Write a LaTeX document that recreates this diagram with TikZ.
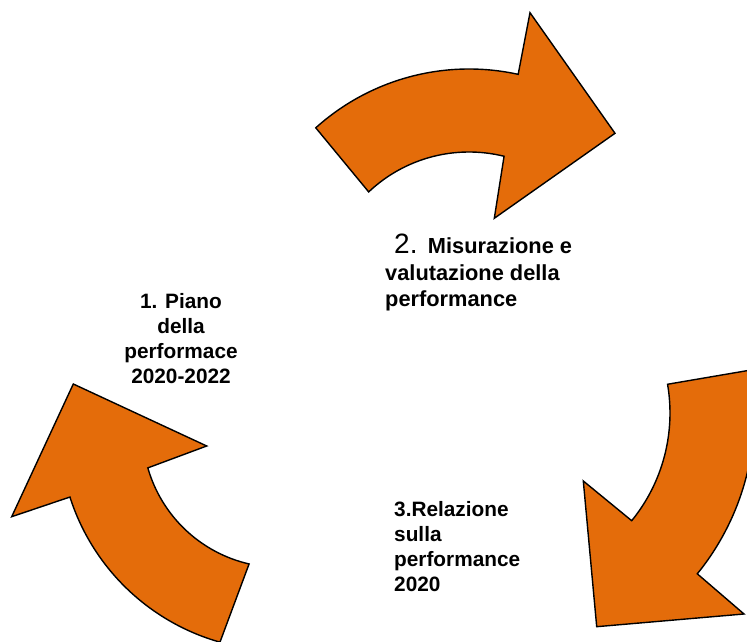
\documentclass[tikz,border=0pt]{standalone}
\usepackage{fontspec}
\setmainfont{Liberation Sans}
\usetikzlibrary{calc}
\definecolor{arroworange}{RGB}{228,108,10}

\begin{document}
\begin{tikzpicture}[x=1pt,y=1pt,
  bentarrow/.style={fill=arroworange, draw=black, line width=1.4pt, line join=miter},
  lbl/.style={inner sep=0pt, font=\bfseries\fontsize{20.8}{25}\selectfont},
  lbltwo/.style={inner sep=0pt, font=\bfseries\fontsize{21.8}{26.5}\selectfont}]
\useasboundingbox (0,0) rectangle (747,642);
\clip (0,0) rectangle (747,642);

% top arrow, bending to the right
\coordinate (c1) at (469,344);
\coordinate (h1a) at (530,629.3);
\coordinate (h1t) at (615,508.7);
\coordinate (h1b) at (494.3,423.7);
\draw[bentarrow] ($(c1)+(132:229)$) arc[start angle=132, end angle=77.6, radius=229]
  -- (h1a) -- (h1t) -- (h1b)
  -- ($(c1)+(76.1:146)$) arc[start angle=76.1, end angle=133.4, radius=146] -- cycle;

% right arrow, bending down to the left
\coordinate (c2) at (499.4,229);
\coordinate (h2a) at (583.3,161);
\coordinate (h2t) at (596.7,15.3);
\coordinate (h2b) at (744,28);
\draw[bentarrow] ($(c2)+(9.7:170.6)$) arc[start angle=9.7, end angle=-39.15, radius=170.6]
  -- (h2a) -- (h2t) -- (h2b)
  -- ($(c2)+(-39.1:255)$) arc[start angle=-39.1, end angle=9.7, radius=255] -- cycle;

% left arrow, bending up
\coordinate (c3) at (280,212);
\coordinate (h3a) at (11.7,125.3);
\coordinate (h3t) at (73.3,258);
\coordinate (h3b) at (206.7,196);
\draw[bentarrow] ($(c3)+(254.2:220.5)$) arc[start angle=254.2, end angle=197.7, radius=220.5]
  -- (h3a) -- (h3t) -- (h3b)
  -- ($(c3)+(196:137.5)$) arc[start angle=196, end angle=257, radius=137.5] -- cycle;

% step 1
\node[lbl, anchor=base] (p1a) at (181,333) {1. Piano};
\node[lbl, anchor=base] (p1b) at (181,308) {della};
\node[lbl, anchor=base] (p1c) at (181,283) {performace};
\node[lbl, anchor=base] (p1d) at (181,258) {2020-2022};

% step 2
\node[lbltwo, anchor=base west] (m2a) at (394,388) {{\mdseries\fontsize{28}{28}\selectfont 2. }Misurazione e};
\node[lbltwo, anchor=base west] (m2b) at (385,361) {valutazione della};
\node[lbltwo, anchor=base west] (m2c) at (385,335) {performance};

% step 3
\node[lbl, anchor=base west] (r3a) at (394,125) {3.Relazione};
\node[lbl, anchor=base west] (r3b) at (394,100) {sulla};
\node[lbl, anchor=base west] (r3c) at (394,75) {performance};
\node[lbl, anchor=base west] (r3d) at (394,50) {2020};
\end{tikzpicture}
\end{document}
